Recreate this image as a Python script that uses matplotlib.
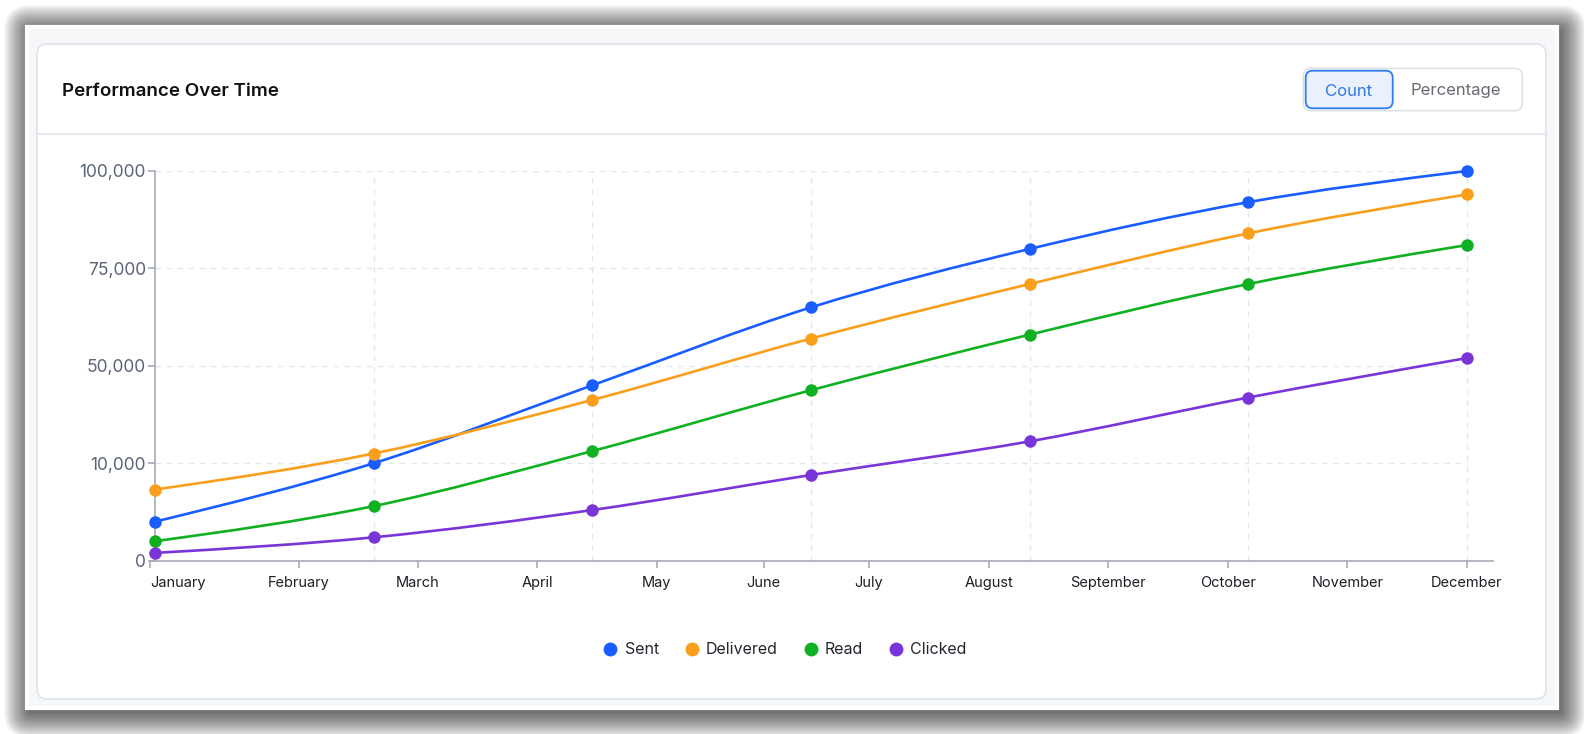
import numpy as np
import matplotlib
matplotlib.use("Agg")
import matplotlib.pyplot as plt
from matplotlib.patches import FancyBboxPatch, PathPatch
from matplotlib.path import Path
from matplotlib.lines import Line2D

plt.rcParams['font.family'] = ['Inter', 'DejaVu Sans']

# ---- data ----
months = ["January", "February", "March", "April", "May", "June", "July",
          "August", "September", "October", "November", "December"]
series_names = ["Sent", "Delivered", "Read", "Clicked"]
sent = [4000, 10000, 42000, 65000, 80000, 92000, 100000]
delivered = [7300, 14000, 36000, 57000, 71000, 84000, 94000]
read = [2000, 5600, 15000, 40000, 58000, 71000, 81000]
clicked = [800, 2400, 5200, 8800, 19000, 37000, 52000]
y_tick_values = [0, 10000, 50000, 75000, 100000]

colors = ["#1a5dff", "#f99f1b", "#10b023", "#7a35d9"]

# ---- layout (pixels) ----
W, H = 1584, 734
pt0, step = 154.8, 218.7            # x pixel of first sample, pixels per sample
month_px = [150, 298.7, 418, 537.3, 656.7, 763.7, 868.7, 988.7,
            1108.3, 1228, 1347.3, 1467]


def px_to_idx(px):
    return (np.asarray(px, float) - pt0) / step


fig = plt.figure(figsize=(W / 100, H / 100), dpi=100)
fig.patch.set_facecolor("white")

# background: shadow, frame, card, header
bg = fig.add_axes([0, 0, 1, 1], zorder=-10)
bg.set_xlim(0, W)
bg.set_ylim(H, 0)
bg.axis("off")

fx0, fy0, fx1, fy1 = 27, 27, 1557, 708
for i in range(1, 27):
    bg.add_patch(FancyBboxPatch((fx0 - i + 3, fy0 - i + 4), fx1 - fx0 + 2 * i, fy1 - fy0 + 2 * i,
                                boxstyle="round,pad=0,rounding_size=%d" % i,
                                fc="black", ec="none", alpha=0.028))
bg.add_patch(FancyBboxPatch((fx0, fy0), fx1 - fx0, fy1 - fy0, boxstyle="square,pad=0",
                            fc="#f6f7f9", ec="white", lw=3))
bg.add_patch(FancyBboxPatch((37, 44), 1546 - 37, 699 - 44, boxstyle="round,pad=0,rounding_size=10",
                            fc="white", ec="#dfe3ec", lw=1.2))
bg.plot([37.5, 1545.5], [134, 134], color="#e1e5ec", lw=1.2)
bg.text(61.5, 91.5, "Performance Over Time", fontsize=13.5, fontweight="semibold",
        color="#111111", ha="left", va="center")

# toggle buttons
bg.add_patch(FancyBboxPatch((1303.3, 68.3), 1522.3 - 1303.3, 110.7 - 68.3,
                            boxstyle="round,pad=0,rounding_size=8", fc="white", ec="#dde1e8", lw=1.2))
bg.add_patch(FancyBboxPatch((1305.7, 70.7), 1392.7 - 1305.7, 108.3 - 70.7,
                            boxstyle="round,pad=0,rounding_size=7", fc="#eaf1fd", ec="#2d7bf0", lw=1.3))
bg.text(1349, 91, "Count", fontsize=12, color="#2f77e6", ha="center", va="center")
bg.text(1456, 91, "Percentage", fontsize=12, color="#666a73", ha="center", va="center")

# ---- chart axes ----
ax = fig.add_axes([150 / W, 1 - 560.7 / H, (1493 - 150) / W, (560.7 - 171) / H])
ax.patch.set_alpha(0)

levels = np.arange(len(y_tick_values), dtype=float)


def fwd(v):
    return np.interp(v, y_tick_values, levels)


def inv(l):
    return np.interp(l, levels, y_tick_values)


ax.set_yscale("function", functions=(fwd, inv))
ax.set_ylim(0, 100000)
ax.set_xlim(px_to_idx(150), px_to_idx(1493))

x = np.arange(len(sent))


def monotone_path(xs, ys):
    # monotone cubic (d3 curveMonotoneX) built in the scaled space
    lx = np.asarray(xs, float)
    ly = fwd(np.asarray(ys, float))
    n = len(lx)
    h = np.diff(lx)
    s = np.diff(ly) / h
    t = np.zeros(n)
    for i in range(1, n - 1):
        p = (s[i - 1] * h[i] + s[i] * h[i - 1]) / (h[i - 1] + h[i])
        sg = (1 if s[i - 1] >= 0 else -1) + (1 if s[i] >= 0 else -1)
        t[i] = sg * min(abs(s[i - 1]), abs(s[i]), 0.5 * abs(p))
    t[0] = (3 * s[0] - t[1]) / 2
    t[-1] = (3 * s[-1] - t[-2]) / 2
    verts = [(lx[0], ly[0])]
    codes = [Path.MOVETO]
    for i in range(n - 1):
        d = h[i] / 3
        verts += [(lx[i] + d, ly[i] + d * t[i]), (lx[i + 1] - d, ly[i + 1] - d * t[i + 1]),
                  (lx[i + 1], ly[i + 1])]
        codes += [Path.CURVE4] * 3
    verts = np.array(verts)
    verts[:, 1] = inv(verts[:, 1])
    return Path(verts, codes)


# grid
grid_c = "#e1e6f0"
ax.hlines(y_tick_values[1:], 0, x[-1], colors=grid_c, lw=1, linestyles=(0, (4, 4)), zorder=1)
ax.vlines(x[1:], 0, 100000, colors=grid_c, lw=1, linestyles=(0, (4, 4)), zorder=1)

for vals, c in zip([sent, delivered, read, clicked], colors):
    ax.add_patch(PathPatch(monotone_path(x, vals), fill=False, ec=c, lw=1.9,
                           zorder=3, clip_on=False))
    ax.plot(x, vals, "o", ms=9, color=c, mew=0, zorder=4, clip_on=False)

# axes styling
spine_c = "#a7abb5"
for k in ["top", "right"]:
    ax.spines[k].set_visible(False)
ax.spines["left"].set_position(("data", 0))
ax.spines["left"].set_bounds(0, 100000)
ax.spines["left"].set_color(spine_c)
ax.spines["bottom"].set_color(spine_c)
ax.spines["left"].set_linewidth(1.2)
ax.spines["bottom"].set_linewidth(1.2)

ax.set_yticks(y_tick_values)
ax.set_yticklabels(["{:,}".format(v) for v in y_tick_values])
ax.tick_params(axis="y", length=5, width=1.2, color=spine_c, pad=1.5,
               labelsize=12.5, labelcolor="#5c6478")
ax.set_xticks(px_to_idx(month_px))
ax.set_xticklabels(months)
ax.tick_params(axis="x", length=5, width=1.2, color=spine_c, pad=6,
               labelsize=10.5, labelcolor="#1d1f26")
ax.get_xticklabels()[0].set_horizontalalignment("left")

handles = [Line2D([], [], ls="none", marker="o", ms=10, mew=0, color=c) for c in colors]
fig.legend(handles, series_names, loc="center", bbox_to_anchor=(785 / W, 1 - 650 / H),
           ncol=4, frameon=False, fontsize=11.5, handlelength=0.9, handletextpad=0.45,
           columnspacing=1.6, labelcolor="#23262f")

fig.savefig("out.png", dpi=100)
